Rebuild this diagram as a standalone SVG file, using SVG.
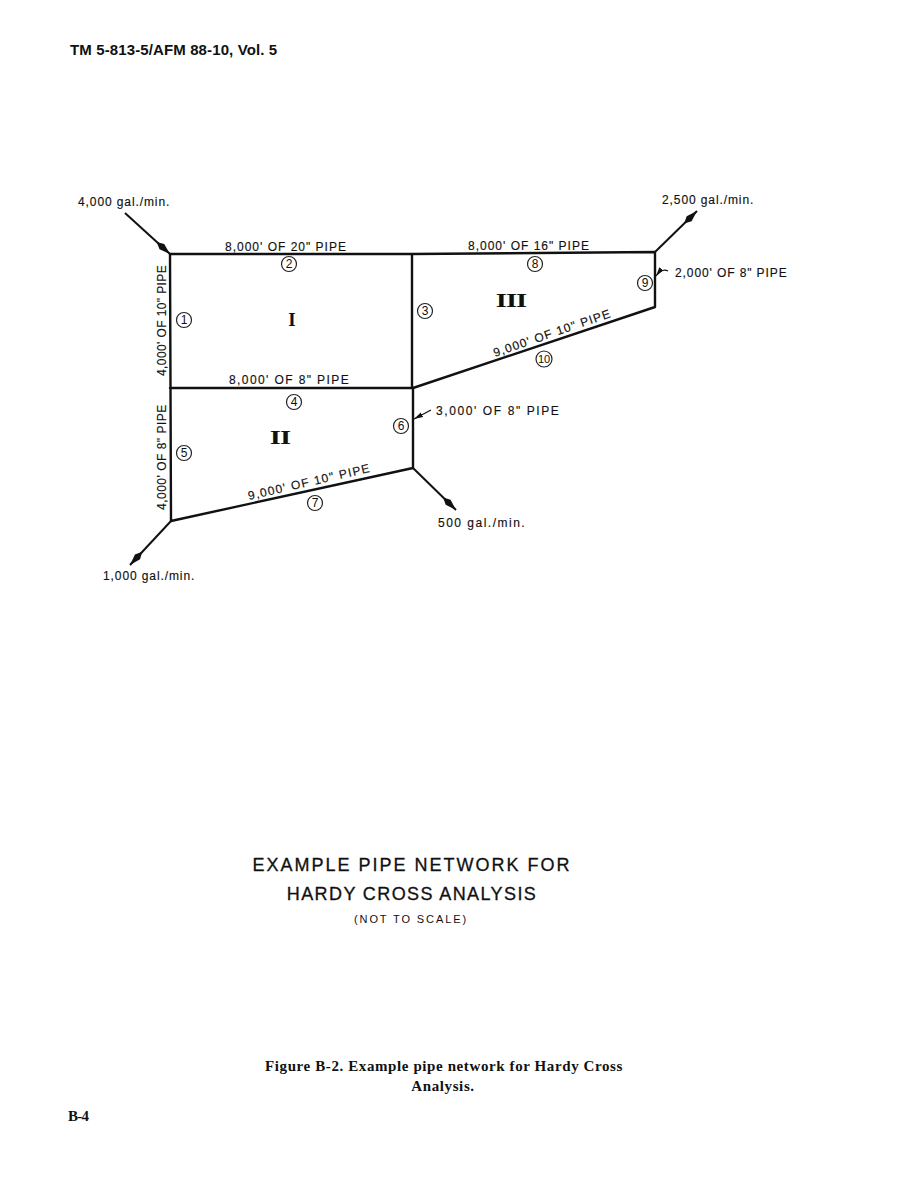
<svg xmlns="http://www.w3.org/2000/svg" width="920" height="1188" viewBox="0 0 920 1188">
<style>
text{fill:#111;font-family:"Liberation Sans",Arial,sans-serif}
.l{font-size:12px;letter-spacing:.9px;stroke:#111;stroke-width:.15}
.n{font-size:12px;text-anchor:middle}
.r{font-family:"Liberation Serif",serif;font-weight:700;font-size:19px;text-anchor:middle}
.p{fill:none;stroke:#111;stroke-width:2.4;stroke-linecap:round;stroke-linejoin:round}
.a{fill:none;stroke:#111;stroke-width:2;marker-end:url(#ah)}
.t{fill:none;stroke:#111;stroke-width:1.2}
.c{fill:none;stroke:#222;stroke-width:1.2}
.h{font-weight:700;font-size:15px;letter-spacing:.12px}
.f{font-family:"Liberation Serif",serif;font-weight:700;font-size:15px;text-anchor:middle;letter-spacing:.6px}
.ti{font-size:18px;text-anchor:middle;stroke:#111;stroke-width:.3}
</style>
<defs>
<marker id="ah" markerUnits="userSpaceOnUse" markerWidth="20" markerHeight="10" refX="18" refY="5" orient="auto"><path d="M0 5L7 1.5L18 5L7 8.5Z" fill="#111"/></marker>
<marker id="sh" markerUnits="userSpaceOnUse" markerWidth="11" markerHeight="8" refX="9" refY="4" orient="auto"><path d="M0 1.5L9 4L0 6.5Z" fill="#111"/></marker>
</defs>
<rect width="920" height="1188" fill="#fff"/>
<text class="h" x="70" y="55">TM 5-813-5/AFM 88-10, Vol. 5</text>
<g id="connectors">
<path class="p" d="M170 254H412L655 252V307L413 388M170 388H412V254M170 254L171 521L413 468V388"/>
<path class="a" d="M125 213L170 254"/>
<path class="a" d="M655 252L697 211"/>
<path class="a" d="M413 468L456 510"/>
<path class="a" d="M171 521L130 565"/>
<path class="t" d="M668 271Q662 268 656 276" marker-end="url(#sh)"/>
<path class="t" d="M431 410L414 419" marker-end="url(#sh)"/>
</g>
<g id="flow-in"><text class="l" x="78" y="206">4,000 gal./min.</text></g>
<g id="flow-out-1"><text class="l" x="662" y="204">2,500 gal./min.</text></g>
<g id="flow-out-2"><text class="l" x="438" y="527" style="letter-spacing:1.5px">500 gal./min.</text></g>
<g id="flow-out-3"><text class="l" x="103" y="580">1,000 gal./min.</text></g>
<g id="pipe-1"><text class="l" transform="translate(166 376) rotate(-90)" style="letter-spacing:.4px">4,000' OF 10" PIPE</text><circle class="c" cx="184" cy="320" r="7.5"/><text class="n" x="184" y="324">1</text></g>
<g id="pipe-2"><text class="l" x="225" y="251" style="letter-spacing:1px">8,000' OF 20" PIPE</text><circle class="c" cx="289" cy="264" r="7.5"/><text class="n" x="289" y="268">2</text></g>
<g id="pipe-3"><circle class="c" cx="425" cy="311" r="7.5"/><text class="n" x="425" y="315">3</text></g>
<g id="pipe-4"><text class="l" x="229" y="384" style="letter-spacing:1.4px">8,000' OF 8" PIPE</text><circle class="c" cx="294" cy="402" r="7.5"/><text class="n" x="294" y="406">4</text></g>
<g id="pipe-5"><text class="l" transform="translate(166 510) rotate(-90)" style="letter-spacing:.5px">4,000' OF 8" PIPE</text><circle class="c" cx="184" cy="453" r="7.5"/><text class="n" x="184" y="457">5</text></g>
<g id="pipe-6"><text class="l" x="436" y="415" style="letter-spacing:1.6px">3,000' OF 8" PIPE</text><circle class="c" cx="401" cy="426" r="7.5"/><text class="n" x="401" y="430">6</text></g>
<g id="pipe-7"><text class="l" transform="translate(249 500) rotate(-13)" style="letter-spacing:1.2px">9,000' OF 10" PIPE</text><circle class="c" cx="315" cy="503" r="7.5"/><text class="n" x="315" y="507">7</text></g>
<g id="pipe-8"><text class="l" x="468" y="250" style="letter-spacing:1px">8,000' OF 16" PIPE</text><circle class="c" cx="535" cy="264" r="7.5"/><text class="n" x="535" y="268">8</text></g>
<g id="pipe-9"><text class="l" x="675" y="277">2,000' OF 8" PIPE</text><circle class="c" cx="645" cy="283" r="7.5"/><text class="n" x="645" y="287">9</text></g>
<g id="pipe-10"><text class="l" transform="translate(495 357) rotate(-19)" style="letter-spacing:1.1px">9,000' OF 10" PIPE</text><circle class="c" cx="544" cy="359" r="8"/><text class="n" x="544" y="363" style="font-size:11px">10</text></g>
<g id="loop-1"><text class="r" x="292" y="326">I</text></g>
<g id="loop-2"><text class="r" transform="translate(280 444) scale(1.5 1)" style="letter-spacing:-.6px">II</text></g>
<g id="loop-3"><text class="r" transform="translate(511 307) scale(1.5 1)" style="letter-spacing:-.6px">III</text></g>
<text class="ti" x="412" y="871" style="letter-spacing:2px">EXAMPLE PIPE NETWORK FOR</text>
<text class="ti" x="412" y="900" style="letter-spacing:1.4px">HARDY CROSS ANALYSIS</text>
<text x="411" y="923" style="font-size:11px;letter-spacing:1.9px;text-anchor:middle">(NOT TO SCALE)</text>
<text class="f" x="444" y="1071">Figure B-2. Example pipe network for Hardy Cross</text>
<text class="f" x="443" y="1091">Analysis.</text>
<text x="68" y="1121" style="font-family:'Liberation Serif',serif;font-weight:700;font-size:15px;letter-spacing:-.8px">B-4</text>
</svg>
